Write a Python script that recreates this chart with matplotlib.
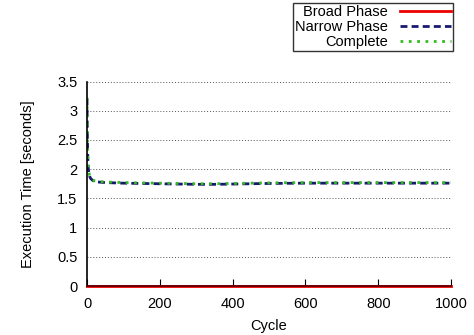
import matplotlib
matplotlib.use("Agg")
import matplotlib.pyplot as plt

plt.rcParams['font.family'] = ['Liberation Sans', 'DejaVu Sans']

cycles = [0, 1, 2, 3, 4, 5, 7, 10, 15, 20, 30, 50, 75, 100, 150, 200, 250, 300,
          350, 400, 450, 500, 600, 700, 800, 900, 1000]
complete = [3.22, 2.60, 2.25, 2.08, 2.00, 1.95, 1.89, 1.85, 1.82, 1.80, 1.79, 1.78,
            1.775, 1.77, 1.765, 1.76, 1.755, 1.75, 1.75, 1.755, 1.76, 1.765, 1.77,
            1.77, 1.77, 1.77, 1.77]
narrow = [3.21, 2.59, 2.24, 2.07, 1.99, 1.94, 1.88, 1.84, 1.81, 1.79, 1.78, 1.77,
          1.765, 1.76, 1.755, 1.75, 1.745, 1.74, 1.74, 1.745, 1.75, 1.755, 1.76,
          1.76, 1.76, 1.76, 1.76]
broad = [0.005] * len(cycles)

xticks = [0, 200, 400, 600, 800, 1000]
yticks = [0, 0.5, 1, 1.5, 2, 2.5, 3, 3.5]

fig = plt.figure(figsize=(4.74, 3.35), dpi=100)
ax = fig.add_axes([87/474, 49/335, 364/474, 204.5/335])

ax.plot(cycles, broad, color='#ee0000', lw=2, label='Broad Phase', zorder=3, clip_on=False)
ax.plot(cycles, narrow, color='#191970', lw=2, ls=(0, (2.5, 1.5)), label='Narrow Phase', zorder=3)
ax.plot(cycles, complete, color='#33bb22', lw=2, ls=(0, (1, 2)), label='Complete', zorder=4)

ax.set_xlim(0, 1000)
ax.set_ylim(0, 3.5)
ax.set_xticks(xticks)
ax.set_yticks(yticks)
ax.set_yticklabels(['0', '0.5', '1', '1.5', '2', '2.5', '3', '3.5'])
ax.yaxis.grid(True, ls=(0, (1, 2)), color='#555555', lw=0.7)
ax.set_axisbelow(True)
for s in ['top', 'right']:
    ax.spines[s].set_visible(False)
for s in ['left', 'bottom']:
    ax.spines[s].set_linewidth(1.2)
    ax.spines[s].set_zorder(6)
ax.spines['bottom'].set_color('#550000')
ax.tick_params(direction='in', length=5, labelsize=10.5, pad=8)
ax.tick_params(axis='y', length=0, pad=7)
ax.set_xlabel('Cycle', fontsize=10.5, labelpad=6)
ax.set_ylabel('Execution Time [seconds]', fontsize=10.5, labelpad=16)

handles, labels = ax.get_legend_handles_labels()
leg = fig.legend(handles, labels, loc='upper right', bbox_to_anchor=(453/474, 1 - 3/335),
                 markerfirst=False, fontsize=10.5, frameon=True, fancybox=False,
                 edgecolor='black', borderpad=0.15, labelspacing=0.05, handlelength=3.5,
                 handletextpad=0.8, borderaxespad=0)
leg.get_frame().set_linewidth(1.0)
for t in leg.get_texts():
    t.set_ha('right')
leg._legend_box.align = 'right'

fig.savefig('out.png', dpi=100)
